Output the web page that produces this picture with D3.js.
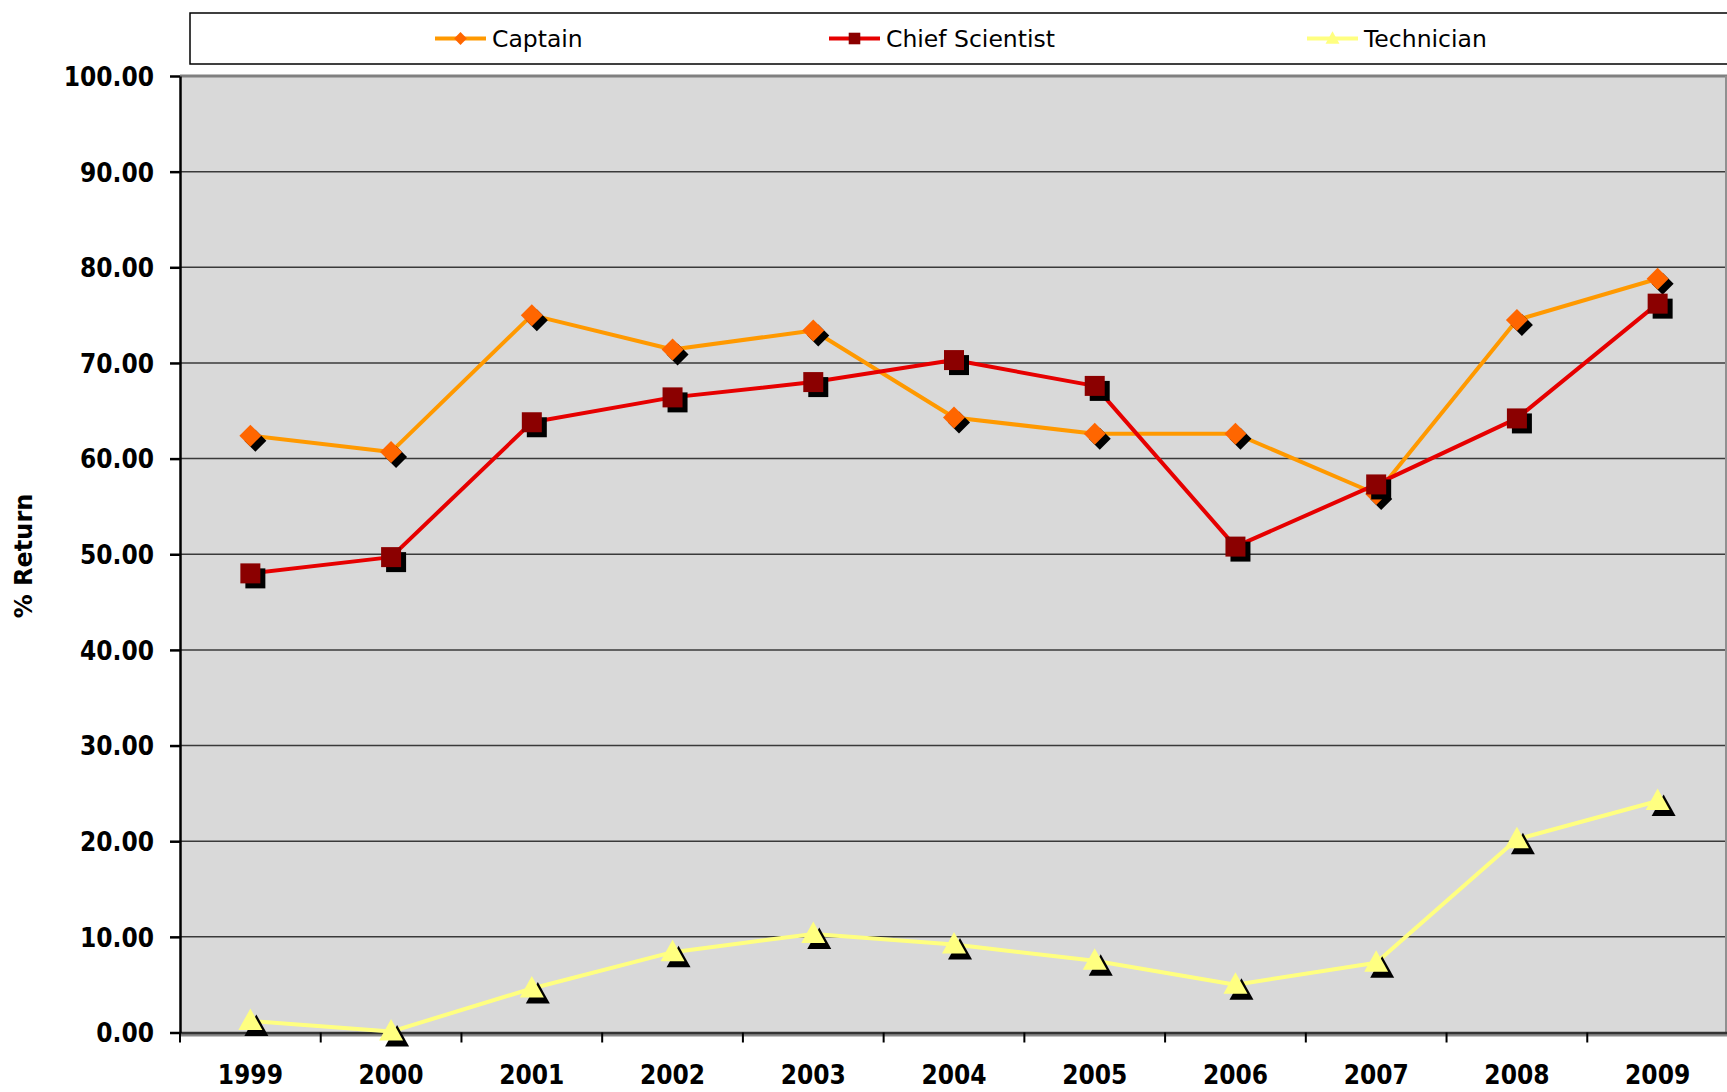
<!DOCTYPE html>
<html>
<head>
<meta charset="utf-8">
<script src="https://cdn.jsdelivr.net/npm/d3@7"></script>
<style>
  body { margin: 0; background: #fff; }
  svg { display: block; }
  .tick text { font-family: "DejaVu Sans Condensed", "DejaVu Sans", sans-serif; font-stretch: condensed; font-weight: bold; font-size: 26px; fill: #000; }
</style>
</head>
<body>
<div id="chart"></div>
<script>
const years = ["1999", "2000", "2001", "2002", "2003", "2004", "2005", "2006", "2007", "2008", "2009"];
const captain = [62.4, 60.7, 75.0, 71.4, 73.4, 64.3, 62.6, 62.6, 56.3, 74.5, 78.8];
const chiefScientist = [48.0, 49.7, 63.8, 66.4, 68.0, 70.3, 67.6, 50.8, 57.3, 64.2, 76.2];
const technician = [1.2, 0.1, 4.6, 8.4, 10.3, 9.2, 7.5, 5.0, 7.3, 20.2, 24.2];
const yTicks = [0, 10, 20, 30, 40, 50, 60, 70, 80, 90, 100];

const width = 1727, height = 1092;
const plotLeft = 180, plotRight = 1726, plotTop = 76, plotBottom = 1032.5;

const series = [
    { name: "Captain", values: captain, line: "#ff9900", fill: "#ff6600", shape: "diamond" },
    { name: "Chief Scientist", values: chiefScientist, line: "#e60000", fill: "#8b0000", shape: "square" },
    { name: "Technician", values: technician, line: "#ffff80", fill: "#ffff80", shape: "triangle" }
];

// marker shapes, big ones for the plot and small ones for the legend
const shapes = {
    diamond: s => `M0,${-11 * s}L${11 * s},0L0,${11 * s}L${-11 * s},0Z`,
    square: s => `M${-10 * s},${-10 * s}h${20 * s}v${20 * s}h${-20 * s}Z`,
    triangle: s => `M0,${-12.5 * s}L${12 * s},${9 * s}L${-12 * s},${9 * s}Z`
};

const svg = d3.select("#chart").append("svg")
    .attr("width", width)
    .attr("height", height);

// the category bands run a touch past the visible right border
const x = d3.scaleBand().domain(years).range([plotLeft, 1728]);
const y = d3.scaleLinear().domain([0, 100]).range([plotBottom, plotTop]);
const cx = d => x(d) + x.bandwidth() / 2;

// plot area
svg.append("rect")
    .attr("x", plotLeft).attr("y", plotTop)
    .attr("width", plotRight - plotLeft).attr("height", plotBottom - plotTop)
    .attr("fill", "#d9d9d9");

// gridlines
svg.append("g")
    .selectAll("line")
    .data(yTicks.filter(d => d > 0 && d < 100))
    .join("line")
    .attr("x1", plotLeft).attr("x2", plotRight)
    .attr("y1", d => y(d)).attr("y2", d => y(d))
    .attr("stroke", "#3a3a3a")
    .attr("stroke-width", 1.5);

// plot border (top / right / bottom shadow) in gray
svg.append("line")
    .attr("x1", plotLeft).attr("x2", plotRight + 2)
    .attr("y1", plotTop).attr("y2", plotTop)
    .attr("stroke", "#808080").attr("stroke-width", 3);
svg.append("line")
    .attr("x1", plotRight).attr("x2", plotRight)
    .attr("y1", plotTop).attr("y2", plotBottom)
    .attr("stroke", "#909090").attr("stroke-width", 2);
svg.append("line")
    .attr("x1", plotLeft).attr("x2", plotRight + 2)
    .attr("y1", plotBottom + 2.5).attr("y2", plotBottom + 2.5)
    .attr("stroke", "#8a8a8a").attr("stroke-width", 3);

// x axis: labels centered on categories, ticks between them
const xAxis = svg.append("g")
    .attr("transform", `translate(0,${plotBottom})`)
    .call(d3.axisBottom(x).tickSize(0).tickPadding(33));
xAxis.select(".domain").attr("stroke", "#333").attr("stroke-width", 2.5);

svg.append("g")
    .selectAll("line")
    .data(years.map(d => x(d)))
    .join("line")
    .attr("x1", d => d).attr("x2", d => d)
    .attr("y1", plotBottom).attr("y2", plotBottom + 10)
    .attr("stroke", "#000").attr("stroke-width", 2);

// y axis
const yAxis = svg.append("g")
    .attr("transform", `translate(${plotLeft},0)`)
    .call(d3.axisLeft(y).tickValues(yTicks).tickFormat(d3.format(".2f")).tickSize(10).tickPadding(16).tickSizeOuter(0));
yAxis.select(".domain").attr("stroke", "#000").attr("stroke-width", 2.5);
yAxis.selectAll(".tick line").attr("stroke", "#000").attr("stroke-width", 2.5);
yAxis.selectAll(".tick text").attr("dy", "0.36em");

svg.append("text")
    .attr("transform", `translate(32,556) rotate(-90)`)
    .attr("text-anchor", "middle")
    .attr("font-family", "DejaVu Sans, sans-serif")
    .attr("font-weight", "bold")
    .attr("font-size", 24)
    .text("% Return");

// series
const line = d3.line().x((d, i) => cx(years[i])).y(d => y(d));

series.forEach(s => {
    const g = svg.append("g");
    g.append("path")
        .attr("d", line(s.values))
        .attr("fill", "none")
        .attr("stroke", s.line)
        .attr("stroke-width", 4)
        .attr("stroke-linejoin", "round");
    const off = s.shape === "triangle" ? 6 : 5;
    g.selectAll(".shadow")
        .data(s.values)
        .join("path")
        .attr("class", "shadow")
        .attr("transform", (d, i) => `translate(${cx(years[i]) + off},${y(d) + off})`)
        .attr("d", shapes[s.shape](1))
        .attr("fill", "#000");
    g.selectAll(".marker")
        .data(s.values)
        .join("path")
        .attr("class", "marker")
        .attr("transform", (d, i) => `translate(${cx(years[i])},${y(d)})`)
        .attr("d", shapes[s.shape](1))
        .attr("fill", s.fill);
});

// legend
svg.append("rect")
    .attr("x", 190).attr("y", 13)
    .attr("width", 1560).attr("height", 51)
    .attr("fill", "#fff")
    .attr("stroke", "#000")
    .attr("stroke-width", 1.5);

const legendX = [435, 829, 1307];
const legend = svg.append("g")
    .selectAll("g")
    .data(series)
    .join("g")
    .attr("transform", (d, i) => `translate(${legendX[i]},38.5)`);
legend.append("line")
    .attr("x1", 0).attr("x2", 51)
    .attr("stroke", d => d.line)
    .attr("stroke-width", 4);
legend.append("path")
    .attr("transform", "translate(25.5,0)")
    .attr("d", d => shapes[d.shape](0.58))
    .attr("fill", d => d.fill);
legend.append("text")
    .attr("x", 57)
    .attr("dy", "0.36em")
    .attr("font-family", "DejaVu Sans, sans-serif")
    .attr("font-size", 23.5)
    .text(d => d.name);
</script>
</body>
</html>
